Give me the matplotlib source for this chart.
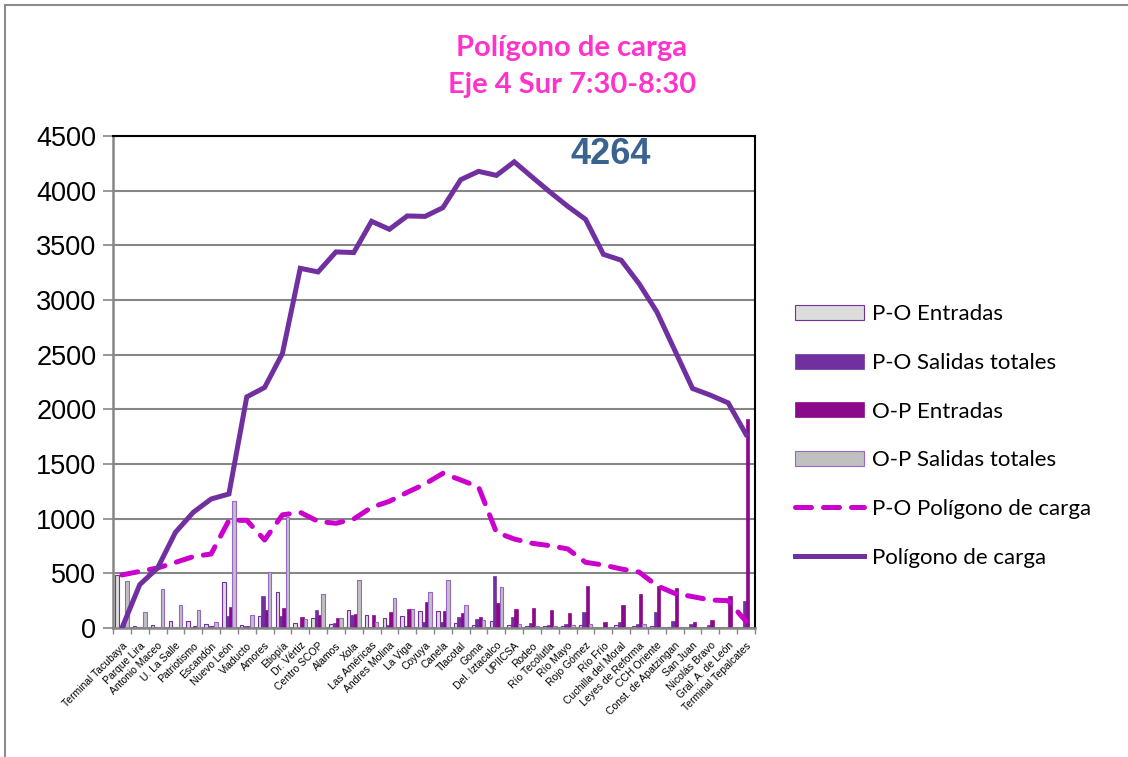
import numpy as np
import matplotlib
matplotlib.use("Agg")
import matplotlib.pyplot as plt
from matplotlib.patches import Rectangle

# Eje 4 Sur, load polygon 7:30-8:30
estaciones = ["Terminal Tacubaya", "Parque Lira", "Antonio Maceo", "U. La Salle",
              "Patriotismo", "Escandón", "Nuevo León", "Viaducto", "Amores", "Etiopía",
              "Dr. Vértiz", "Centro SCOP", "Alamos", "Xola", "Las Américas",
              "Andres Molina", "La Viga", "Coyuya", "Canela", "Tlacotal", "Goma",
              "Del. Iztacalco", "UPIICSA", "Rodeo", "Río Tecolutla", "Río Mayo",
              "Rojo Gómez", "Río Frío", "Cuchilla del Moral", "Leyes de Reforma",
              "CCH Oriente", "Const. de Apatzingan", "San Juan", "Nicolás Bravo",
              "Gral. A. de León", "Terminal Tepalcates"]

po_entradas = [485, 21, 27, 64, 61, 37, 425, 27, 110, 329, 48, 88, 33, 165, 116, 91, 113, 152,
               152, 43, 27, 61, 30, 21, 18, 18, 27, 0, 27, 19, 21, 12, 0, 0, 0, 0]
po_salidas = [0, 0, 0, 0, 0, 15, 107, 18, 293, 107, 0, 165, 46, 122, 10, 30, 17, 58,
              55, 98, 82, 479, 98, 46, 27, 40, 146, 0, 55, 40, 146, 62, 33, 28, 0, 248]
op_entradas = [0, 0, 0, 0, 20, 18, 195, 18, 168, 186, 100, 119, 88, 128, 122, 146, 170, 240,
               152, 137, 104, 229, 174, 183, 165, 140, 381, 55, 213, 312, 382, 370, 52, 70, 292, 1910]
op_salidas = [428, 146, 360, 207, 168, 57, 1158, 116, 515, 1013, 80, 312, 90, 442, 55, 277, 170, 333,
              438, 210, 76, 372, 34, 21, 21, 27, 40, 0, 10, 35, 5, 5, 0, 0, 10, 0]

po_poligono = [485, 518, 549, 600, 653, 677, 985, 985, 805, 1035, 1058, 975, 958, 997, 1104, 1159,
               1241, 1318, 1415, 1354, 1290, 875, 814, 775, 753, 723, 601, 576, 540, 512, 387, 317,
               287, 256, 250, 60]
poligono = [0, 397, 549, 875, 1058, 1180, 1226, 2114, 2200, 2511, 3290, 3257, 3440, 3434, 3720,
            3647, 3769, 3765, 3845, 4101, 4177, 4140, 4264, 4125, 3988, 3857, 3738, 3418, 3364,
            3150, 2891, 2541, 2191, 2130, 2059, 1770]

PURPLE = "#7030A0"
MAGENTA = "#8B0A8B"
PINK = "#CC00CC"
GRID = "#868686"

fig = plt.figure(figsize=(11.28, 7.57), dpi=100)
ax = fig.add_axes([0.1002, 0.1704, 0.5691, 0.6499])

x = np.arange(len(estaciones))
w = 0.19
ax.bar(x - 1.5 * w, po_entradas, w, color="#DCDCDC", edgecolor=PURPLE, lw=0.8,
       label="P-O Entradas", zorder=2)
ax.bar(x - 0.5 * w, po_salidas, w, color=PURPLE, edgecolor=PURPLE, lw=0.5,
       label="P-O Salidas totales", zorder=2)
ax.bar(x + 0.5 * w, op_entradas, w, color=MAGENTA, edgecolor=MAGENTA, lw=0.5,
       label="O-P Entradas", zorder=2)
ax.bar(x + 1.5 * w, op_salidas, w, color="#C0C0C0", edgecolor="#9966CC", lw=0.8,
       label="O-P Salidas totales", zorder=2)

ax.plot(x, po_poligono, color=PINK, lw=3.6, ls=(0, (3.2, 2.4)), dash_capstyle="round",
        label="P-O Polígono de carga", zorder=3)
ax.plot(x, poligono, color=PURPLE, lw=3.6, solid_joinstyle="miter",
        label="Polígono de carga", zorder=4)

ax.text(27.4, 4330, "4264", color="#3A6390", fontsize=26, fontweight="bold",
        family="Liberation Sans", ha="center", va="center", zorder=5)

ax.set_xlim(-0.5, len(estaciones) - 0.5)
ax.set_ylim(0, 4500)
ax.set_yticks(np.arange(0, 4501, 500))
ax.yaxis.grid(True, color=GRID, lw=1.5, zorder=0)
ax.set_axisbelow(True)
for lab in ax.get_yticklabels():
    lab.set_family("Liberation Sans")
ax.tick_params(axis="y", labelsize=19.5, length=7, width=1.2, color=GRID, pad=5)

ax.set_xticks(x)
ax.set_xticklabels(estaciones, rotation=45, ha="right", va="top", rotation_mode="anchor",
                   fontsize=7.5, family="Liberation Sans")
ax.tick_params(axis="x", which="major", length=0, pad=9)
ax.set_xticks(np.arange(-0.5, len(estaciones)), minor=True)
ax.tick_params(axis="x", which="minor", length=4, width=1, color=GRID)

ax.spines["left"].set_color(GRID)
ax.spines["left"].set_linewidth(1.8)
ax.spines["bottom"].set_color(GRID)
ax.spines["bottom"].set_linewidth(1.8)
ax.spines["top"].set_color("black")
ax.spines["right"].set_color("black")
ax.spines["top"].set_linewidth(1.5)
ax.spines["right"].set_linewidth(1.5)

fig.text(0.507, 0.912, "Polígono de carga\nEje 4 Sur 7:30-8:30", color="#FF33CC",
         fontsize=21, fontweight="bold", family="Lato", ha="center", va="center",
         linespacing=1.5)

handles, labels = ax.get_legend_handles_labels()
orden = [2, 3, 4, 5, 0, 1]
ax.legend([handles[i] for i in orden], [labels[i] for i in orden],
          loc="upper left", bbox_to_anchor=(0.705, 0.598), bbox_transform=fig.transFigure,
          frameon=False, borderaxespad=0, borderpad=0, handlelength=3.1, handleheight=0.65,
          handletextpad=0.35, labelspacing=1.29, prop={"family": "Lato", "size": 16})

fig.add_artist(Rectangle((0.0044, -0.05), 1.2, 1.0434, fill=False, edgecolor="#8C8C8C",
                         lw=1.5, transform=fig.transFigure))

fig.savefig("out.png", dpi=100)
